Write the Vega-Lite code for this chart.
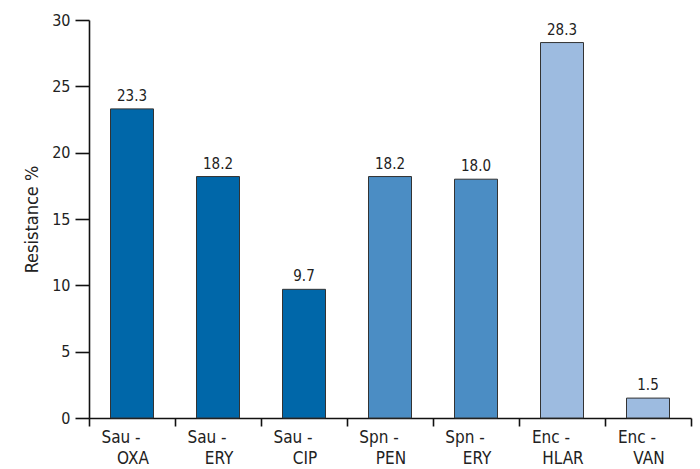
{
  "$schema": "https://vega.github.io/schema/vega-lite/v6.json",
  "width": 602,
  "height": 398,
  "autosize": "none",
  "padding": {"left": 89, "top": 20, "right": 9, "bottom": 51},
  "background": "white",
  "config": {
    "view": {"stroke": null},
    "font": "DejaVu Sans Condensed",
    "axis": {"grid": false, "domainColor": "#111", "tickColor": "#111", "labelColor": "#222", "titleColor": "#222", "domainWidth": 1.6, "tickWidth": 1.6}
  },
  "data": {
    "values": [
      {"label": "Sau - OXA", "group": "Sau", "value": 23.3},
      {"label": "Sau - ERY", "group": "Sau", "value": 18.2},
      {"label": "Sau - CIP", "group": "Sau", "value": 9.7},
      {"label": "Spn - PEN", "group": "Spn", "value": 18.2},
      {"label": "Spn - ERY", "group": "Spn", "value": 18.0},
      {"label": "Enc - HLAR", "group": "Enc", "value": 28.3},
      {"label": "Enc - VAN", "group": "Enc", "value": 1.5}
    ]
  },
  "encoding": {
    "x": {"field": "label", "type": "nominal", "sort": null,
      "scale": {"paddingInner": 0.5, "paddingOuter": 0.25}},
    "y": {"field": "value", "type": "quantitative",
      "scale": {"domain": [0, 30], "nice": false},
      "axis": {"title": "Resistance %", "values": [0, 5, 10, 15, 20, 25, 30], "tickSize": 14, "labelPadding": 5, "labelFontSize": 16, "titleFontSize": 18, "titleFontWeight": "normal", "titlePadding": 10}}
  },
  "layer": [
    {
      "mark": {"type": "bar", "stroke": "#333", "strokeWidth": 1},
      "encoding": {
        "x": {"field": "label", "type": "nominal", "sort": null,
          "axis": {"title": null, "orient": "bottom", "ticks": true, "bandPosition": -0.5, "tickExtra": false, "tickSize": 8, "labelAngle": 0, "labelFontSize": 17, "labelPadding": 3, "labelOffset": -11, "labelBaseline": "top",
            "labelExpr": "indexof(datum.label, ' - ') >= 0 ? split(datum.label, ' - ')[0] + ' -' : ''"}},
        "color": {"field": "group", "type": "nominal", "legend": null,
          "scale": {"domain": ["Sau", "Spn", "Enc"], "range": ["#0067a9", "#4b8dc4", "#9dbbe0"]}}
      }
    },
    {
      "mark": {"type": "text", "dy": -5, "baseline": "bottom", "fontSize": 15, "color": "#222"},
      "encoding": {
        "x": {"field": "label", "type": "nominal", "sort": null,
          "axis": {"title": null, "orient": "bottom", "domain": false, "ticks": true, "bandPosition": 1.5, "tickExtra": false, "tickSize": 8,
            "tickOpacity": {"condition": {"test": "datum.value === 'Enc - VAN'", "value": 1}, "value": 0},
            "labelAngle": 0, "labelFontSize": 17, "labelPadding": 24, "labelOffset": 1, "labelBaseline": "top",
            "labelExpr": "indexof(datum.label, ' - ') >= 0 ? split(datum.label, ' - ')[1] : ''"}},
        "text": {"field": "value", "type": "quantitative", "format": ".1f"}
      }
    }
  ],
  "resolve": {"axis": {"x": "independent"}}
}
